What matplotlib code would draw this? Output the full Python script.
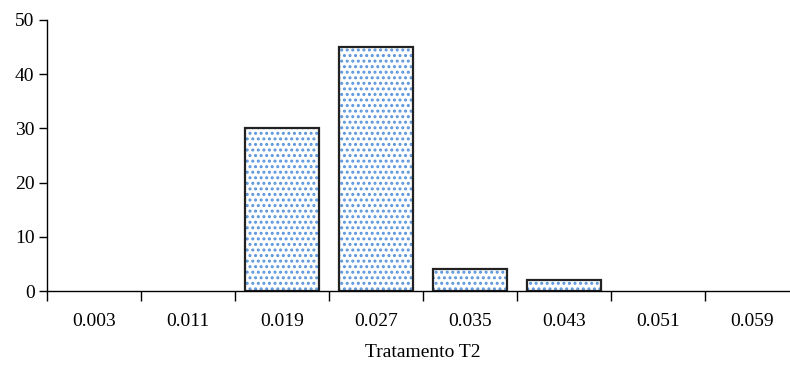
import numpy as np
import matplotlib.pyplot as plt

plt.rcParams['font.family'] = ['Liberation Serif', 'DejaVu Serif']
plt.rcParams['hatch.linewidth'] = 1.4

categories = ['0.003', '0.011', '0.019', '0.027', '0.035', '0.043', '0.051', '0.059']
counts = [0, 0, 30, 45, 4, 2, 0, 0]

fig = plt.figure(figsize=(7.9, 3.74), dpi=100)
ax = fig.add_axes([47 / 790, 83 / 374, 752 / 790, 271 / 374])

x = np.arange(len(categories))
# empty classes get no outline
edge_w = [1.6 if c > 0 else 0 for c in counts]
# dotted fill first, black outline on top
ax.bar(x, counts, width=0.78, color='white', edgecolor='#5a95dc',
       hatch='...', linewidth=0)
ax.bar(x, counts, width=0.78, fill=False, edgecolor='#222222', linewidth=edge_w)

ax.set_xlim(-0.5, len(categories) - 0.5)
ax.set_ylim(0, 50)
ax.set_yticks([0, 10, 20, 30, 40, 50])

ax.set_xticks(np.arange(len(categories)) - 0.5)
ax.set_xticklabels([])
ax.set_xticks(x, minor=True)
ax.set_xticklabels(categories, minor=True)
ax.tick_params(axis='x', which='major', length=7, width=1, direction='out')
ax.tick_params(axis='x', which='minor', length=0, pad=16, labelsize=14)
ax.tick_params(axis='y', length=6, width=1, direction='out', pad=3, labelsize=14)

for s in ['top', 'right']:
    ax.spines[s].set_visible(False)
for s in ['left', 'bottom']:
    ax.spines[s].set_linewidth(1)

ax.set_xlabel('Tratamento T2', fontsize=14, labelpad=10)

plt.savefig('out.png', dpi=100)
